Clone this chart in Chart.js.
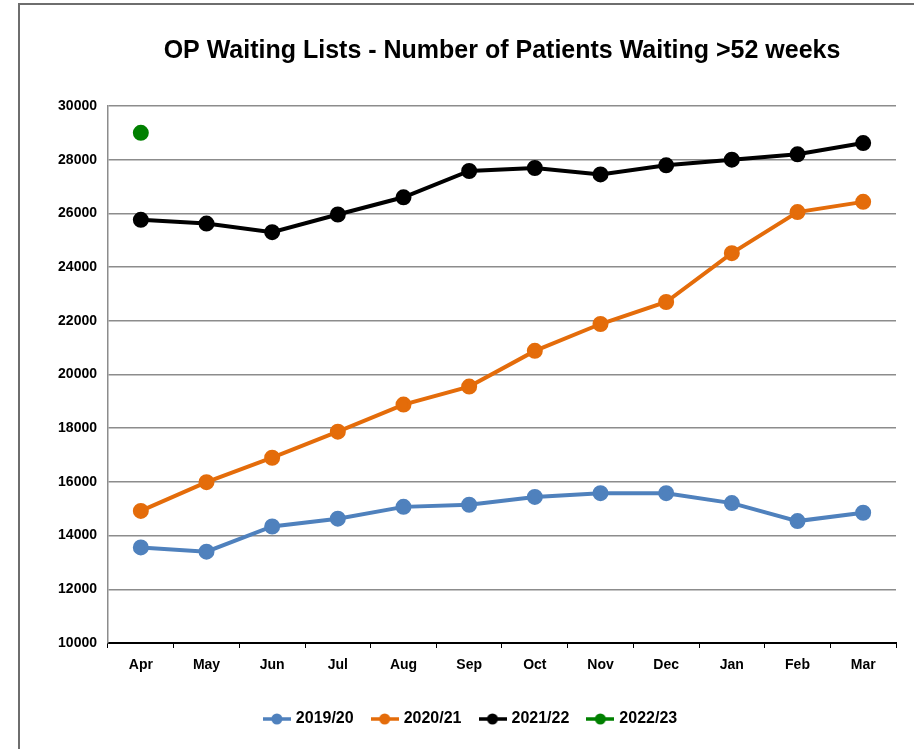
<!DOCTYPE html>
<html lang="en">
<head>
  <meta charset="UTF-8">
  <title>OP Waiting Lists - Number of Patients Waiting >52 weeks</title>
  <script src="https://cdn.jsdelivr.net/npm/chart.js"></script>
  <style>
    body {
      margin: 0;
      background: #fff;
      overflow: hidden;
    }
    .frame {
      position: absolute;
      left: 18px;
      top: 3px;
      width: 920px;
      height: 760px;
      border-left: 2px solid #6e6e6e;
      border-top: 2px solid #6e6e6e;
    }
    .wrap {
      position: absolute;
      left: 0;
      top: 0;
      width: 914px;
      height: 749px;
    }
  </style>
</head>
<body>
  <div class="frame"></div>
  <div class="wrap"><canvas id="lineChart" width="914" height="749"></canvas></div>

  <script>
    const months = ['Apr', 'May', 'Jun', 'Jul', 'Aug', 'Sep', 'Oct', 'Nov', 'Dec', 'Jan', 'Feb', 'Mar'];
    const y2019 = [13560, 13400, 14340, 14630, 15070, 15150, 15440, 15580, 15580, 15210, 14540, 14850];
    const y2020 = [14920, 15990, 16900, 17870, 18880, 19550, 20880, 21880, 22700, 24520, 26050, 26430];
    const y2021 = [25760, 25620, 25300, 25960, 26600, 27580, 27690, 27450, 27790, 28000, 28200, 28620];
    const y2022 = [29000, null, null, null, null, null, null, null, null, null, null, null];
    const yTicks = { min: 10000, max: 30000, step: 2000 };

    const fontFam = "'Liberation Sans', Arial, sans-serif";

    // little line-with-dot marker for the legend
    function marker(color) {
      const c = document.createElement('canvas');
      c.width = 28;
      c.height = 14;
      const g = c.getContext('2d');
      g.strokeStyle = color;
      g.lineWidth = 3.5;
      g.beginPath();
      g.moveTo(0, 7);
      g.lineTo(28, 7);
      g.stroke();
      g.fillStyle = color;
      g.beginPath();
      g.arc(14, 7, 5.5, 0, Math.PI * 2);
      g.fill();
      return c;
    }

    function series(label, data, color) {
      return {
        label: label,
        data: data,
        borderColor: color,
        backgroundColor: color,
        borderWidth: 4,
        pointRadius: 6,
        pointHoverRadius: 6,
        pointBackgroundColor: color,
        pointBorderColor: color,
        tension: 0,
        spanGaps: false
      };
    }

    new Chart(document.getElementById('lineChart'), {
      type: 'line',
      data: {
        labels: months,
        datasets: [
          series('2019/20', y2019, '#4f81bd'),
          series('2020/21', y2020, '#e46c0a'),
          series('2021/22', y2021, '#000000'),
          series('2022/23', y2022, '#008000')
        ]
      },
      options: {
        responsive: false,
        animation: false,
        layout: {
          padding: { left: 47, right: 18, top: 36, bottom: 12 }
        },
        plugins: {
          tooltip: { enabled: false },
          title: {
            display: true,
            text: 'OP Waiting Lists - Number of Patients Waiting >52 weeks',
            fullSize: false,
            color: '#000',
            font: { family: fontFam, size: 25, weight: 'bold', lineHeight: 1.2 },
            padding: { top: 0, bottom: 40 }
          },
          legend: {
            position: 'bottom',
            labels: {
              usePointStyle: true,
              pointStyleWidth: 22,
              boxHeight: 14,
              padding: 20,
              color: '#000',
              font: { family: fontFam, size: 16, weight: 'bold' },
              generateLabels: (chart) => {
                const items = Chart.defaults.plugins.legend.labels.generateLabels(chart);
                items.forEach(it => {
                  it.pointStyle = marker(chart.data.datasets[it.datasetIndex].borderColor);
                });
                return items;
              }
            }
          }
        },
        scales: {
          x: {
            offset: true,
            grid: {
              offset: true,
              drawOnChartArea: false,
              drawTicks: true,
              tickLength: 5,
              color: '#000'
            },
            border: { color: '#000', width: 2 },
            ticks: {
              padding: 9,
              color: '#000',
              font: { family: fontFam, size: 14, weight: 'bold' }
            },
            afterFit: (scale) => { scale.height = 48; }
          },
          y: {
            min: yTicks.min,
            max: yTicks.max,
            grid: {
              color: '#8c8c8c',
              lineWidth: 1.5,
              drawTicks: false
            },
            border: { color: '#8c8c8c', width: 1.5 },
            ticks: {
              stepSize: yTicks.step,
              padding: 11,
              color: '#000',
              font: { family: fontFam, size: 14, weight: 'bold' },
              callback: (v) => String(v)
            },
            afterFit: (scale) => { scale.width = 61; }
          }
        }
      }
    });
  </script>
</body>
</html>
